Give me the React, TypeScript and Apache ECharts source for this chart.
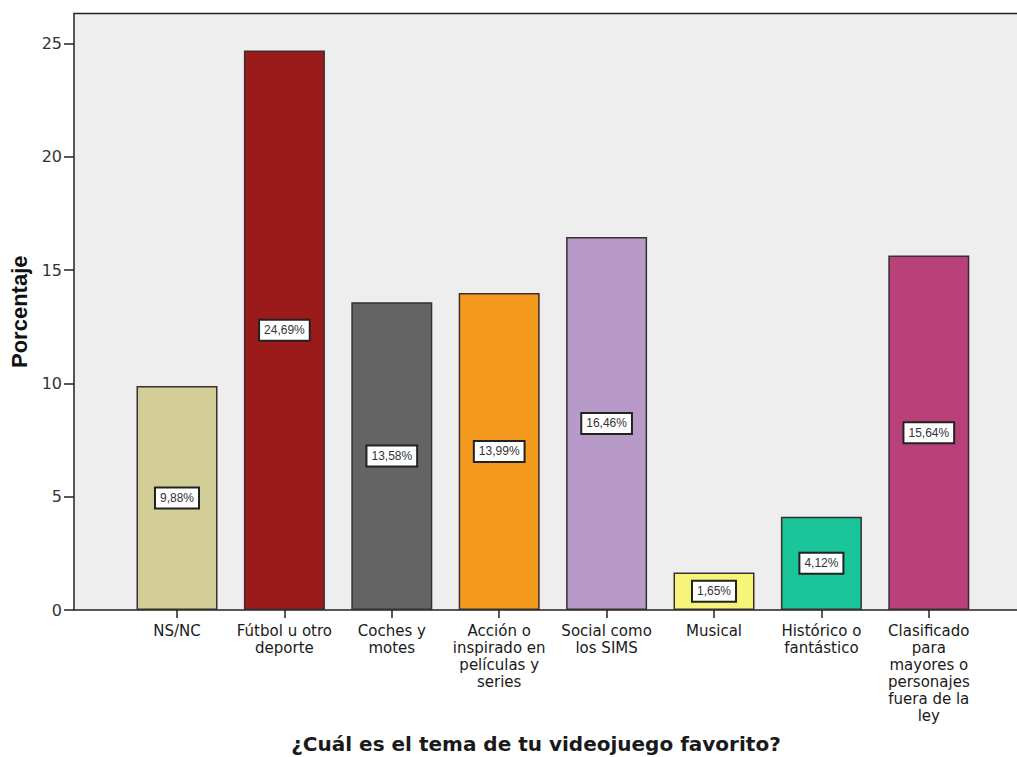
import React, { useEffect, useRef } from "react";
import * as echarts from "echarts";

const categories: string[] = [
  "NS/NC",
  "Fútbol u otro\ndeporte",
  "Coches y\nmotes",
  "Acción o\ninspirado en\npelículas y\nseries",
  "Social como\nlos SIMS",
  "Musical",
  "Histórico o\nfantástico",
  "Clasificado\npara\nmayores o\npersonajes\nfuera de la\nley",
];
const percentages: number[] = [9.88, 24.69, 13.58, 13.99, 16.46, 1.65, 4.12, 15.64];
const barColors: string[] = [
  "#d3ce97",
  "#9b1a1a",
  "#646464",
  "#f39a1e",
  "#b89ac8",
  "#f6f57a",
  "#1bc59a",
  "#b8417a",
];
const yTicks: number[] = [0, 5, 10, 15, 20, 25];
const yTitle = "Porcentaje";
const xTitle = "¿Cuál es el tema de tu videojuego favorito?";

const SANS = "'Liberation Sans', Arial, Helvetica, sans-serif";
const WIDE = "'DejaVu Sans', Verdana, sans-serif";

export default function App() {
  const ref = useRef<HTMLDivElement>(null);
  useEffect(() => {
    document.body.style.margin = "0";
    if (!ref.current) return;
    const chart = echarts.init(ref.current, null, { renderer: "svg" });
    chart.setOption({
      animation: false,
      backgroundColor: "#ffffff",
      graphic: [
        {
          type: "rect",
          z: 0,
          shape: { x: 74, y: 13.5, width: 960, height: 596.5 },
          style: { fill: "#eeeeee", stroke: "#222222", lineWidth: 1.5 },
        },
        {
          type: "text",
          x: 536,
          y: 744,
          style: {
            text: xTitle,
            fill: "#1a1a1a",
            font: "bold 20px 'DejaVu Sans', Verdana, sans-serif",
            textAlign: "center",
            textVerticalAlign: "middle",
          },
        },
      ],
      grid: {
        left: 123.3,
        width: 859.2,
        top: 13.5,
        bottom: 147,
        containLabel: false,
        outerBoundsMode: "none",
      },
      xAxis: {
        type: "category",
        data: categories,
        axisLine: { show: false },
        axisTick: {
          show: true,
          alignWithLabel: true,
          length: 8,
          lineStyle: { color: "#222", width: 1.5 },
        },
        axisLabel: {
          interval: 0,
          margin: 12,
          fontFamily: WIDE,
          fontSize: 15,
          lineHeight: 17,
          color: "#1a1a1a",
          align: "center",
        },
      },
      yAxis: {
        type: "value",
        min: 0,
        max: 26.32,
        interval: 5,
        offset: 49.3,
        name: yTitle,
        nameLocation: "middle",
        nameGap: 42,
        nameRotate: 90,
        nameTextStyle: {
          fontFamily: SANS,
          fontWeight: "bold",
          fontSize: 22,
          color: "#111",
        },
        splitLine: { show: false },
        axisLine: { show: false },
        axisTick: {
          show: true,
          length: 10,
          customValues: yTicks,
          lineStyle: { color: "#222", width: 1.5 },
        },
        axisLabel: {
          customValues: yTicks,
          margin: 12,
          fontFamily: WIDE,
          fontSize: 16,
          color: "#333",
        },
      },
      series: [
        {
          type: "bar",
          barWidth: 81,
          data: percentages.map((v, i) => ({
            value: v,
            itemStyle: { color: barColors[i] },
          })),
          itemStyle: { borderColor: "#3a2f2f", borderWidth: 1.5 },
          label: {
            show: true,
            position: "inside",
            formatter: (p: any) => p.value.toFixed(2).replace(".", ",") + "%",
            fontFamily: SANS,
            fontSize: 12,
            color: "#333",
            backgroundColor: "#ffffff",
            borderColor: "#222",
            borderWidth: 2,
            padding: [4, 4, 3, 4],
          },
        },
      ],
    });
    return () => chart.dispose();
  }, []);
  return <div ref={ref} style={{ width: 1017, height: 757 }} />;
}
